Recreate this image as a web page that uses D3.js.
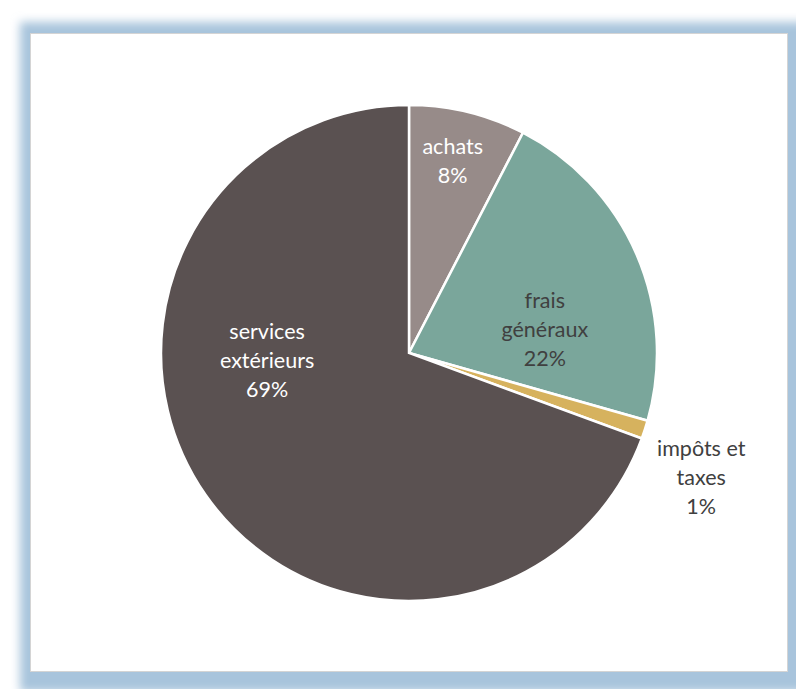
<!DOCTYPE html>
<html>
<head>
<meta charset="utf-8">
<script src="https://cdn.jsdelivr.net/npm/d3@7.9.0/dist/d3.min.js"></script>
<style>
  html, body { margin: 0; padding: 0; background: #fff; }
  svg { display: block; }
</style>
</head>
<body>
<div id="chart"></div>
<script>
// Data
const categories = ["achats", "frais généraux", "impôts et taxes", "services extérieurs"];
const values = [7.6, 21.8, 1.2, 69.4];

// label lines (how the chart breaks each category)
const labelLines = [["achats"], ["frais", "généraux"], ["impôts et", "taxes"], ["services", "extérieurs"]];

// label placement: angle in degrees from 12 o'clock, distance as share of radius
const labelAngle = [12.8, 80, 113, 267];
const labelDist = [0.795, 0.556, 1.28, 0.573];

const colors = ["#978b89", "#7aa69b", "#d6b25e", "#5a5151"];
const textColors = ["#ffffff", "#404040", "#404040", "#ffffff"];

const width = 796;
const height = 689;
const cx = 409, cy = 353, radius = 248;

const svg = d3.select("#chart")
  .append("svg")
  .attr("width", width)
  .attr("height", height);

// frame with blue glow
const defs = svg.append("defs");
defs.append("filter")
  .attr("id", "glow")
  .attr("x", "-10%").attr("y", "-10%")
  .attr("width", "120%").attr("height", "120%")
  .append("feGaussianBlur")
  .attr("stdDeviation", 5);

svg.append("rect")
  .attr("x", 20).attr("y", 22)
  .attr("width", 800).attr("height", 670)
  .attr("fill", "#a8c4dc")
  .attr("filter", "url(#glow)");

svg.append("rect")
  .attr("x", 30.5).attr("y", 33.5)
  .attr("width", 757).attr("height", 638)
  .attr("fill", "#ffffff")
  .attr("stroke", "#d4d4d4")
  .attr("stroke-width", 1);

// pie
const total = d3.sum(values);
const pie = d3.pie().sort(null).value(d => d.value);
const arc = d3.arc().innerRadius(0).outerRadius(radius);

const data = categories.map((c, i) => ({
  name: c,
  value: values[i],
  pct: Math.round(values[i] / total * 100) + "%",
  lines: labelLines[i],
  i: i
}));

const g = svg.append("g").attr("transform", `translate(${cx},${cy})`);

g.selectAll("path")
  .data(pie(data))
  .join("path")
  .attr("d", arc)
  .attr("fill", d => colors[d.data.i])
  .attr("stroke", "#ffffff")
  .attr("stroke-width", 2.5)
  .attr("stroke-linejoin", "miter");

// labels
const lineH = 29;
const labels = g.selectAll("text.lbl")
  .data(data)
  .join("text")
  .attr("class", "lbl")
  .attr("text-anchor", "middle")
  .attr("font-family", "Lato, 'Open Sans', sans-serif")
  .attr("font-size", 21.5)
  .attr("fill", d => textColors[d.i])
  .attr("transform", d => {
    const a = labelAngle[d.i] * Math.PI / 180;
    const r = labelDist[d.i] * radius;
    return `translate(${r * Math.sin(a)},${-r * Math.cos(a)})`;
  });

labels.each(function(d) {
  const rows = d.lines.concat([d.pct]);
  const t = d3.select(this);
  const y0 = -(rows.length - 1) * lineH / 2;
  rows.forEach((s, k) => {
    t.append("tspan")
      .attr("x", 0)
      .attr("y", y0 + k * lineH)
      .attr("dy", "0.35em")
      .text(s);
  });
});
</script>
</body>
</html>
